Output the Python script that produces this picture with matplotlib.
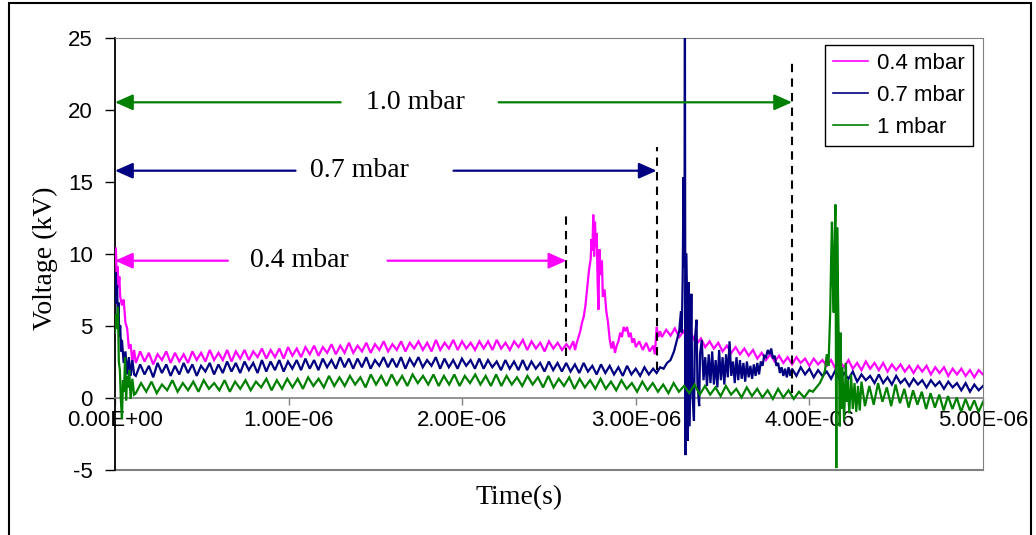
import numpy as np
import matplotlib
matplotlib.use("Agg")
import matplotlib.pyplot as plt
from matplotlib.patches import Rectangle

plt.rcParams["axes.unicode_minus"] = False

# ---------------- data (time in microseconds, voltage in kV) ----------------
series_labels = ["0.4 mbar", "0.7 mbar", "1 mbar"]
series_colors = ["#FF00FF", "#000080", "#008000"]

x_tick_values = [0, 1, 2, 3, 4, 5]
x_tick_labels = ["0.00E+00", "1.00E-06", "2.00E-06", "3.00E-06", "4.00E-06", "5.00E-06"]
y_tick_values = [-5, 0, 5, 10, 15, 20, 25]

# 0.4 mbar
m04_t_start = [0, 0.005, 0.01, 0.015, 0.02, 0.025, 0.03, 0.04, 0.05, 0.06, 0.07, 0.08, 0.09, 0.10, 0.11]
m04_v_start = [9.3, 10.4, 8.2, 9.1, 7.6, 8.4, 7.0, 6.4, 6.8, 5.2, 4.8, 3.4, 3.7, 2.5, 3.3]
m04_base_range = (0.12, 2.60)
m04_v_base = [2.4, 3.2, 2.5, 3.1, 2.3, 3.0, 2.6, 3.2, 2.4, 3.1,
              2.5, 3.0, 2.4, 3.2, 2.6, 3.1, 2.5, 3.3, 2.6, 3.1,
              2.6, 3.3, 2.5, 3.2, 2.7, 3.3, 2.6, 3.2, 2.8, 3.4,
              2.7, 3.3, 2.8, 3.4, 2.7, 3.5, 2.9, 3.4, 2.8, 3.5,
              3.0, 3.6, 2.9, 3.5, 3.1, 3.7, 3.0, 3.6, 3.1, 3.8,
              3.1, 3.6, 3.2, 3.8, 3.1, 3.7, 3.3, 3.9, 3.2, 3.7,
              3.3, 3.9, 3.2, 3.8, 3.4, 3.9, 3.3, 3.8, 3.2, 4.0,
              3.3, 3.8, 3.4, 4.0, 3.3, 3.9, 3.4, 3.8, 3.3, 3.9,
              3.4, 3.9, 3.3, 4.0, 3.4, 3.8, 3.3, 3.9, 3.5, 4.0,
              3.3, 3.9, 3.4, 3.8, 3.2, 3.9, 3.4, 3.8, 3.3, 3.7]
m04_t_peak = [2.62, 2.64, 2.65, 2.66, 2.67, 2.68, 2.69, 2.70, 2.71, 2.72, 2.73, 2.74, 2.745,
              2.75, 2.755, 2.76, 2.765, 2.77, 2.775, 2.78, 2.785, 2.79, 2.80, 2.805, 2.81,
              2.82, 2.83, 2.84, 2.85, 2.86, 2.87, 2.88, 2.89, 2.90, 2.91, 2.92, 2.93, 2.94,
              2.95, 2.96, 2.97, 2.98, 2.99, 3.00, 3.02, 3.04, 3.06, 3.08, 3.10, 3.11, 3.12,
              3.13, 3.14]
m04_v_peak = [3.4, 3.9, 3.3, 3.8, 4.2, 4.6, 5.2, 5.6, 6.4, 7.6, 8.8, 9.6, 11.0,
              10.2, 12.7, 9.8, 12.2, 10.5, 11.4, 8.0, 6.1, 10.3, 8.5, 9.5, 7.0,
              7.5, 6.0, 5.2, 4.0, 3.4, 3.9, 3.1, 3.6, 3.9, 4.5, 4.2, 4.9, 4.6,
              4.9, 4.2, 4.5, 3.8, 4.1, 3.5, 3.9, 3.3, 3.8, 3.2, 3.6, 3.0, 4.9,
              4.2, 4.6]
m04_tail_range = (3.15, 5.0)
m04_v_tail = [4.2, 4.7, 4.3, 4.8, 4.2, 4.6, 4.0, 4.3, 3.7, 4.1,
              3.5, 3.9, 3.4, 3.8, 3.2, 3.6, 3.1, 3.5, 3.0, 3.4,
              2.9, 3.3, 2.7, 3.1, 2.6, 3.0, 2.5, 2.9, 2.4, 2.8,
              2.3, 2.8, 2.4, 2.7, 2.2, 2.7, 2.3, 2.6, 2.2, 2.6,
              2.0, 2.5, 2.1, 2.6, 2.0, 2.4, 1.9, 2.5, 2.0, 2.4,
              1.9, 2.4, 1.8, 2.3, 1.9, 2.3, 1.8, 2.2, 1.7, 2.2,
              1.8, 2.2, 1.6, 2.1, 1.7, 2.1, 1.5, 2.0, 1.6, 2.0,
              1.5, 1.9, 1.4, 1.9, 1.6]

# 0.7 mbar
m07_t_start = [0, 0.004, 0.008, 0.012, 0.016, 0.02, 0.025, 0.03, 0.035, 0.04, 0.05, 0.06, 0.07, 0.08, 0.09, 0.10, 0.11]
m07_v_start = [7.0, 8.7, 6.5, 7.8, 5.5, 6.6, 4.2, 5.0, 3.2, 4.0, 2.4, 3.2, 1.6, 2.8, 1.5, 2.6, 1.6]
m07_base_range = (0.12, 3.10)
m07_v_base = [1.5, 2.3, 1.6, 2.2, 1.4, 2.4, 1.7, 2.3, 1.5, 2.2,
              1.6, 2.4, 1.7, 2.3, 1.5, 2.2, 1.8, 2.4, 1.6, 2.3,
              1.7, 2.5, 1.8, 2.4, 1.7, 2.5, 1.9, 2.4, 1.7, 2.6,
              1.8, 2.5, 1.9, 2.6, 1.8, 2.5, 2.0, 2.6, 1.9, 2.7,
              2.0, 2.6, 1.9, 2.7, 2.1, 2.6, 2.0, 2.8, 2.1, 2.7,
              2.0, 2.7, 2.1, 2.8, 2.0, 2.6, 2.2, 2.8, 2.1, 2.7,
              2.1, 2.8, 2.0, 2.7, 2.2, 2.8, 2.1, 2.6, 2.2, 2.8,
              2.0, 2.7, 2.1, 2.6, 2.0, 2.7, 2.2, 2.6, 2.0, 2.7,
              2.0, 2.6, 2.1, 2.5, 1.9, 2.6, 2.0, 2.5, 1.9, 2.6,
              1.9, 2.5, 2.0, 2.4, 1.8, 2.5, 1.9, 2.4, 1.8, 2.4,
              1.8, 2.3, 1.7, 2.4, 1.8, 2.2, 1.6, 2.3, 1.7, 2.2,
              1.6, 2.1, 1.5, 2.2, 1.6, 2.0, 1.5, 2.1, 1.6, 2.0]
m07_t_spike = [3.12, 3.14, 3.16, 3.18, 3.20, 3.22, 3.235, 3.25, 3.26, 3.265, 3.27, 3.275,
               3.28, 3.283, 3.286, 3.29, 3.295, 3.30, 3.305, 3.31, 3.32, 3.325, 3.335,
               3.34, 3.35, 3.355, 3.365, 3.37, 3.38, 3.39, 3.40, 3.41, 3.42, 3.43, 3.44,
               3.45, 3.46, 3.47, 3.48, 3.49, 3.50, 3.51, 3.52, 3.53, 3.54, 3.55, 3.56,
               3.57, 3.58, 3.59, 3.60, 3.61, 3.62, 3.63, 3.64, 3.65, 3.66, 3.67, 3.68,
               3.69, 3.70, 3.71, 3.72, 3.73, 3.74, 3.75, 3.76, 3.77, 3.78, 3.79, 3.80,
               3.81, 3.82, 3.83, 3.84, 3.85, 3.86, 3.87, 3.88, 3.89, 3.90]
m07_v_spike = [1.7, 2.1, 2.0, 2.4, 2.6, 3.2, 3.9, 4.6, 6.0, 4.5, 8.2, 15.3,
               9.0, 25.5, -4.0, 10.0, 6.5, -3.0, 8.0, -2.0, 7.2, 0.5, -1.6,
               4.0, 5.4, 1.0, -0.6, 3.0, 4.0, 1.2, 2.8, 0.8, 3.0, 1.0, 3.2,
               0.9, 2.6, 0.7, 3.3, 1.2, 2.8, 0.9, 3.0, 1.4, 3.9, 1.5, 2.5,
               1.0, 2.8, 1.2, 2.6, 1.3, 2.4, 1.1, 2.5, 1.4, 2.2, 1.3, 2.3,
               1.5, 2.4, 1.6, 2.5, 2.2, 2.9, 2.8, 3.3, 3.0, 3.4, 2.7, 2.9,
               2.2, 2.4, 1.7, 2.1, 1.5, 2.0, 1.4, 2.1, 1.5, 2.0]
m07_tail_range = (3.925, 5.0)
m07_v_tail = [1.5, 2.1, 1.6, 2.0, 1.4, 1.9, 1.5, 1.8, 1.3, 1.9,
              1.2, 1.7, 1.3, 1.8, 1.1, 1.6, 1.2, 1.5, 1.0, 1.6,
              1.0, 1.4, 0.9, 1.5, 1.0, 1.3, 0.8, 1.3, 0.9, 1.2,
              0.7, 1.2, 0.8, 1.1, 0.6, 1.1, 0.7, 1.0, 0.5, 1.0,
              0.4, 0.9, 0.5, 0.8]

# 1 mbar
m10_t_start = [0, 0.005, 0.012, 0.017, 0.022, 0.028, 0.034, 0.040, 0.046, 0.052, 0.058,
               0.064, 0.07, 0.076, 0.082, 0.09, 0.10, 0.11]
m10_v_start = [4.5, 5.8, 4.8, 6.3, 2.5, 1.9, -0.2, -1.5, 1.2, 0.4, 2.8,
               -0.2, 1.5, 0.7, 1.9, -0.1, 1.3, 0.2]
m10_base_range = (0.12, 4.0)
m10_v_base = [0.3, 1.0, 0.4, 1.1, 0.3, 0.9, 0.5, 1.2, 0.4, 1.0,
              0.5, 1.1, 0.4, 1.2, 0.6, 1.0, 0.5, 1.2, 0.4, 1.1,
              0.6, 1.2, 0.5, 1.1, 0.7, 1.3, 0.5, 1.2, 0.6, 1.3,
              0.7, 1.3, 0.6, 1.4, 0.8, 1.3, 0.7, 1.5, 0.8, 1.4,
              0.8, 1.5, 0.9, 1.4, 0.7, 1.6, 0.9, 1.5, 0.8, 1.6,
              0.9, 1.5, 0.8, 1.6, 1.0, 1.5, 0.9, 1.6, 0.8, 1.5,
              0.9, 1.6, 0.8, 1.5, 1.0, 1.6, 0.9, 1.5, 0.8, 1.6,
              0.8, 1.5, 0.9, 1.4, 0.8, 1.5, 0.9, 1.4, 0.7, 1.5,
              0.7, 1.3, 0.8, 1.4, 0.6, 1.3, 0.7, 1.2, 0.6, 1.3,
              0.6, 1.1, 0.5, 1.2, 0.6, 1.0, 0.4, 1.1, 0.5, 1.0,
              0.4, 0.9, 0.3, 1.0, 0.4, 0.8, 0.3, 0.9, 0.2, 0.8,
              0.2, 0.7, 0.1, 0.8, 0.2, 0.6, 0.0, 0.7, 0.1, 0.6,
              0.0, 0.5, -0.1, 0.6, 0.0, 0.5, -0.1, 0.4, 0.0, 0.5]
m10_t_spike = [4.02, 4.04, 4.06, 4.08, 4.09, 4.10, 4.11, 4.12, 4.125, 4.13, 4.135, 4.14,
               4.145, 4.15, 4.155, 4.16, 4.165, 4.17, 4.175, 4.18, 4.185, 4.19, 4.20,
               4.21, 4.215, 4.22, 4.23, 4.24, 4.25, 4.26, 4.27, 4.28, 4.29, 4.30]
m10_v_spike = [0.4, 0.7, 1.0, 1.5, 1.9, 3.0, 2.2, 6.0, 9.5, 12.2, 8.0, 5.9,
               10.5, 13.4, -4.9, 11.8, 7.0, 3.0, -2.0, 4.5, -0.8, 2.1, -1.6,
               2.4, -0.3, 1.2, -1.1, 1.6, -0.8, 1.0, -1.0, 0.8, -0.9, 1.1]
m10_tail_range = (4.32, 5.0)
m10_v_tail = [-0.6, 0.8, -0.5, 1.0, -0.3, 0.7, -0.6, 0.9, -0.4, 0.6,
              -0.7, 0.5, -0.5, 0.4, -0.8, 0.3, -0.7, 0.2, -0.9, 0.1,
              -0.8, 0.0, -1.0, -0.1, -0.9, -0.2, -1.0, -0.3]

# annotation data
ann_labels = ["0.4 mbar", "0.7 mbar", "1.0 mbar"]
ann_y = [9.5, 15.75, 20.5]
ann_end = [2.60, 3.12, 3.90]
ann_text_x = [1.06, 1.41, 1.73]
ann_gap_left = [0.65, 1.04, 1.30]
ann_gap_right = [1.57, 1.95, 2.21]
dash_top = [12.8, 17.4, 23.6]
dash_bottom = [2.9, 1.9, 0.3]


def build(t_start, v_start, base_range, v_base, t_mid, v_mid, tail_range, v_tail):
    t = (list(t_start)
         + list(np.linspace(base_range[0], base_range[1], len(v_base)))
         + list(t_mid)
         + list(np.linspace(tail_range[0], tail_range[1], len(v_tail))))
    v = list(v_start) + list(v_base) + list(v_mid) + list(v_tail)
    return np.array(t), np.array(v)


series = [
    build(m04_t_start, m04_v_start, m04_base_range, m04_v_base, m04_t_peak, m04_v_peak, m04_tail_range, m04_v_tail),
    build(m07_t_start, m07_v_start, m07_base_range, m07_v_base, m07_t_spike, m07_v_spike, m07_tail_range, m07_v_tail),
    build(m10_t_start, m10_v_start, m10_base_range, m10_v_base, m10_t_spike, m10_v_spike, m10_tail_range, m10_v_tail),
]

# ---------------- figure ----------------
W, H = 1036, 535
fig = plt.figure(figsize=(W / 100, H / 100), dpi=100)
fig.patch.set_facecolor("white")

ax_left, ax_right, ax_top, ax_bottom = 115, 983, 37.5, 469.5
ax = fig.add_axes([ax_left / W, 1 - ax_bottom / H, (ax_right - ax_left) / W, (ax_bottom - ax_top) / H])

sans = "Liberation Sans"
serif = "Liberation Serif"

for (t, v), c, lab in zip(series, series_colors, series_labels):
    ax.plot(t, v, color=c, lw=1.6, label=lab, zorder=3, solid_joinstyle="miter")

ax.set_xlim(0, 5)
ax.set_ylim(-5, 25)

# dashed markers and arrows
for i in range(3):
    col = series_colors[i]
    ax.plot([ann_end[i], ann_end[i]], [dash_bottom[i], dash_top[i]], color="black",
            lw=1.5, ls=(0, (4, 3)), zorder=4)
    style = "-|>,head_length=0.45,head_width=0.2"
    ax.annotate("", xy=(0, ann_y[i]), xytext=(ann_gap_left[i], ann_y[i]),
                arrowprops=dict(arrowstyle=style, color=col, lw=1.6, mutation_scale=24,
                                shrinkA=0, shrinkB=0), zorder=5)
    ax.annotate("", xy=(ann_end[i], ann_y[i]), xytext=(ann_gap_right[i], ann_y[i]),
                arrowprops=dict(arrowstyle=style, color=col, lw=1.6, mutation_scale=24,
                                shrinkA=0, shrinkB=0), zorder=5)
    ax.text(ann_text_x[i], ann_y[i], ann_labels[i], ha="center", va="center",
            fontsize=20, family=serif, color="black", zorder=6)

# spines / axes style
gray = "#808080"
ax.spines["left"].set_color("black")
ax.spines["left"].set_linewidth(1.3)
ax.spines["top"].set_color(gray)
ax.spines["right"].set_color(gray)
ax.spines["bottom"].set_position(("data", 0))
ax.spines["bottom"].set_color(gray)
ax.spines["bottom"].set_linewidth(1.2)
ax.axhline(-5, color=gray, lw=1.5, clip_on=False, zorder=2)

ax.set_yticks(y_tick_values)
ax.set_xticks(x_tick_values)
ax.set_xticklabels(x_tick_labels)
ax.tick_params(axis="y", direction="out", length=7, width=1, color="black", pad=9,
               labelsize=16, labelcolor="black")
ax.tick_params(axis="x", direction="out", length=5, width=1, color=gray, pad=4,
               labelsize=16, labelcolor="black")
for lbl in ax.get_xticklabels() + ax.get_yticklabels():
    lbl.set_family(sans)

fig.text(45 / W, 1 - 258 / H, "Voltage (kV)", rotation=90, ha="center", va="center",
         fontsize=20, family=serif)
fig.text(519 / W, 1 - 498 / H, "Time(s)", ha="center", va="center", fontsize=20, family=serif)

leg = ax.legend(loc="upper right", bbox_to_anchor=(0.988, 0.983), frameon=True, fancybox=False,
                edgecolor="black", framealpha=1, prop={"family": sans, "size": 16},
                handlelength=1.6, labelspacing=0.5, borderpad=0.35, handletextpad=0.4,
                borderaxespad=0)
leg.get_frame().set_linewidth(1.0)
for line in leg.get_lines():
    line.set_linewidth(1.2)

# outer frame
fig.add_artist(Rectangle((8.5 / W, -0.02), (1031 - 8.5) / W, 1 - 3 / H + 0.02,
                         transform=fig.transFigure, fill=False, edgecolor="black", lw=1.5))

fig.savefig("out.png", dpi=100, facecolor="white")
